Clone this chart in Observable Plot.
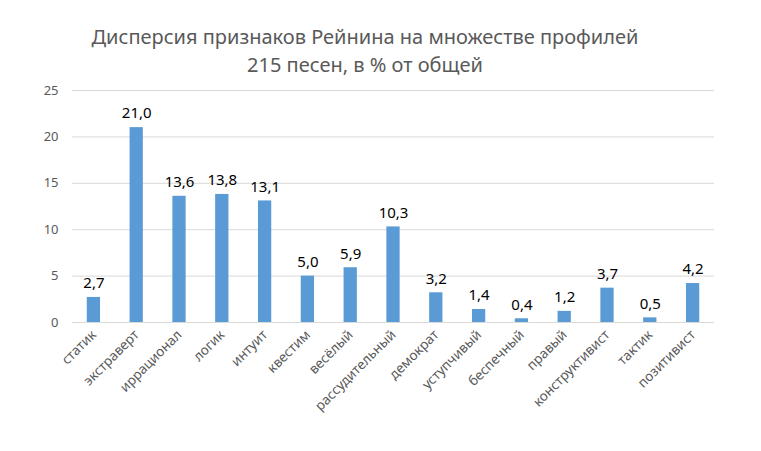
<!DOCTYPE html>
<html>
<head>
<meta charset="utf-8">
<script src="https://cdn.jsdelivr.net/npm/d3@7"></script>
<script src="https://cdn.jsdelivr.net/npm/@observablehq/plot@0.6"></script>
<style>
  html, body { margin: 0; padding: 0; background: #fff; }
  body { width: 761px; height: 451px; overflow: hidden; font-family: "Noto Sans", sans-serif; }
  #title { height: 80px; box-sizing: border-box; padding-top: 23px; width: 730px;
           text-align: center; font-size: 20px; line-height: 28px; color: #595959; }
</style>
</head>
<body>
<div id="title">Дисперсия признаков Рейнина на множестве профилей<br>215 песен, в % от общей</div>
<div id="chart"></div>
<script>
const categories = ["статик","экстраверт","иррационал","логик","интуит","квестим","весёлый","рассудительный","демократ","уступчивый","беспечный","правый","конструктивист","тактик","позитивист"];
const values = [2.7, 21.0, 13.6, 13.8, 13.1, 5.0, 5.9, 10.3, 3.2, 1.4, 0.4, 1.2, 3.7, 0.5, 4.2];
const yTicks = [0, 5, 10, 15, 20, 25];

const data = categories.map((c, i) => ({cat: c, value: values[i]}));
const fmt = v => v.toFixed(1).replace(".", ",");

const chart = Plot.plot({
  width: 761,
  height: 371,
  marginTop: 10,
  marginBottom: 129,
  marginLeft: 72,
  marginRight: 47,
  style: {fontFamily: "Noto Sans, sans-serif", color: "#595959", background: "#fff"},
  x: {domain: categories, paddingInner: 0.69, paddingOuter: 0.345, round: false, label: null},
  y: {domain: [0, 25], label: null},
  marks: [
    Plot.gridY(yTicks, {stroke: "#d9d9d9", strokeOpacity: 1}),
    Plot.axisY(yTicks, {tickSize: 0, tickPadding: 14, fontSize: 13, fill: "#595959", label: null}),
    Plot.axisX({tickSize: 0, tickPadding: 10, tickRotate: -45, fontSize: 13.5, fill: "#595959", label: null}),
    Plot.barY(data, {x: "cat", y: "value", fill: "#5b9bd5"}),
    Plot.text(data, {x: "cat", y: "value", text: d => fmt(d.value), dy: -14, fontSize: 15, fill: "#000"})
  ]
});
document.getElementById("chart").appendChild(chart);
</script>
</body>
</html>
